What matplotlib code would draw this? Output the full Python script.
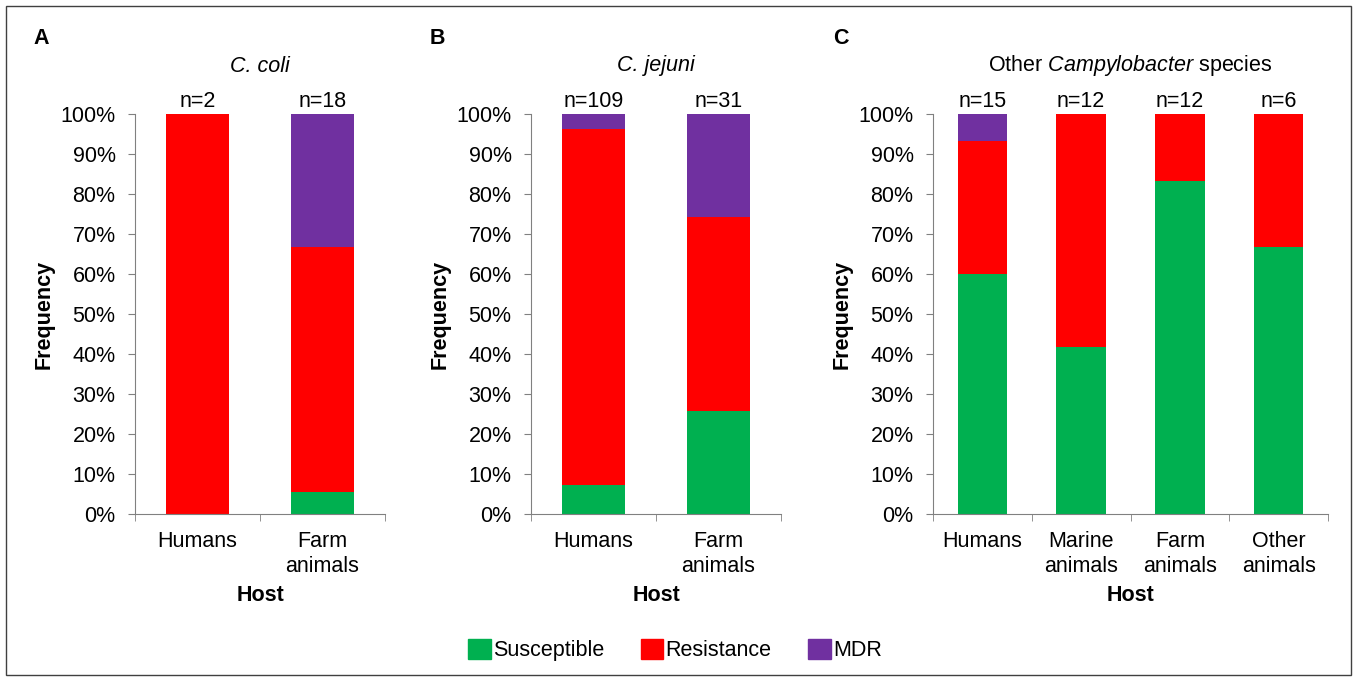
import matplotlib.pyplot as plt
import matplotlib.patches as mpatches
from matplotlib.ticker import PercentFormatter, FixedLocator

plt.rcParams["font.family"] = ["Liberation Sans", "DejaVu Sans"]
plt.rcParams["mathtext.fontset"] = "custom"
plt.rcParams["mathtext.it"] = "Liberation Sans:italic"
plt.rcParams["mathtext.rm"] = "Liberation Sans"

GREEN = "#00B050"
RED = "#FF0000"
PURPLE = "#7030A0"
AXIS = "#808080"
FS = 15.5

# panel A: C. coli
a_hosts = ["Humans", "Farm\nanimals"]
a_n = [2, 18]
a_susc = [0.0, 5.6]
a_res = [100.0, 61.1]
a_mdr = [0.0, 33.3]

# panel B: C. jejuni
b_hosts = ["Humans", "Farm\nanimals"]
b_n = [109, 31]
b_susc = [7.3, 25.8]
b_res = [89.0, 48.4]
b_mdr = [3.7, 25.8]

# panel C: other Campylobacter species
c_hosts = ["Humans", "Marine\nanimals", "Farm\nanimals", "Other\nanimals"]
c_n = [15, 12, 12, 6]
c_susc = [60.0, 41.7, 83.3, 66.7]
c_res = [33.3, 58.3, 16.7, 33.3]
c_mdr = [6.7, 0.0, 0.0, 0.0]


def draw_panel(ax, hosts, n, susc, res, mdr):
    x = range(len(hosts))
    ax.bar(x, susc, width=0.5, color=GREEN)
    ax.bar(x, res, width=0.5, bottom=susc, color=RED)
    tops = [s + r for s, r in zip(susc, res)]
    ax.bar(x, mdr, width=0.5, bottom=tops, color=PURPLE)
    for i, k in enumerate(n):
        ax.text(i, 100.6, f"n={k}", ha="center", va="bottom", fontsize=FS)

    ax.set_xlim(-0.5, len(hosts) - 0.5)
    ax.set_ylim(0, 100)
    ax.set_yticks(range(0, 101, 10))
    ax.yaxis.set_major_formatter(PercentFormatter(decimals=0))
    ax.set_xticks(list(x))
    ax.set_xticklabels(hosts, fontsize=FS, linespacing=1.25)
    ax.tick_params(axis="x", length=0, pad=12)
    ax.xaxis.set_minor_locator(FixedLocator([i - 0.5 for i in range(len(hosts) + 1)]))
    ax.tick_params(axis="x", which="minor", length=5, color=AXIS, direction="out")
    ax.tick_params(axis="y", labelsize=FS, length=5, color=AXIS, pad=9)
    for side in ["top", "right"]:
        ax.spines[side].set_visible(False)
    for side in ["left", "bottom"]:
        ax.spines[side].set_color(AXIS)
    ax.set_ylabel("Frequency", fontsize=FS, fontweight="bold", labelpad=4)
    ax.set_xlabel("Host", fontsize=FS, fontweight="bold", labelpad=6)


fig = plt.figure(figsize=(13.57, 6.81), dpi=100)
W, H = 1357, 681


def axes_px(left, right, top, bottom):
    return fig.add_axes([left / W, 1 - bottom / H, (right - left) / W, (bottom - top) / H])


ax_a = axes_px(135, 385, 114, 514)
ax_b = axes_px(531, 781, 114, 514)
ax_c = axes_px(933, 1328, 114, 514)

draw_panel(ax_a, a_hosts, a_n, a_susc, a_res, a_mdr)
draw_panel(ax_b, b_hosts, b_n, b_susc, b_res, b_mdr)
draw_panel(ax_c, c_hosts, c_n, c_susc, c_res, c_mdr)

# panel letters and titles
fig.text(33 / W, 1 - 38 / H, "A", fontsize=FS, fontweight="bold", va="center")
fig.text(430 / W, 1 - 38 / H, "B", fontsize=FS, fontweight="bold", va="center")
fig.text(833 / W, 1 - 38 / H, "C", fontsize=FS, fontweight="bold", va="center")
fig.text(260 / W, 1 - 66 / H, "C. coli", fontsize=FS, style="italic", ha="center", va="center")
fig.text(656 / W, 1 - 66 / H, "C. jejuni", fontsize=FS, style="italic", ha="center", va="center")
fig.text(1130 / W, 1 - 66 / H,
         r"Other $\mathit{Campylobacter}$ species", fontsize=FS, ha="center", va="center")

handles = [mpatches.Patch(color=GREEN, label="Susceptible"),
           mpatches.Patch(color=RED, label="Resistance"),
           mpatches.Patch(color=PURPLE, label="MDR")]
fig.legend(handles=handles, loc="center", bbox_to_anchor=(675 / W, 1 - 650 / H), ncol=3,
           frameon=False, fontsize=FS, handlelength=1.05, handleheight=1.05,
           handletextpad=0.1, columnspacing=1.7)

fig.patches.append(mpatches.Rectangle((6 / W, 6 / H), 1 - 12 / W, 1 - 12 / H,
                                      transform=fig.transFigure, fill=False,
                                      edgecolor="#404040", linewidth=1))

fig.savefig("out.png", dpi=100)
